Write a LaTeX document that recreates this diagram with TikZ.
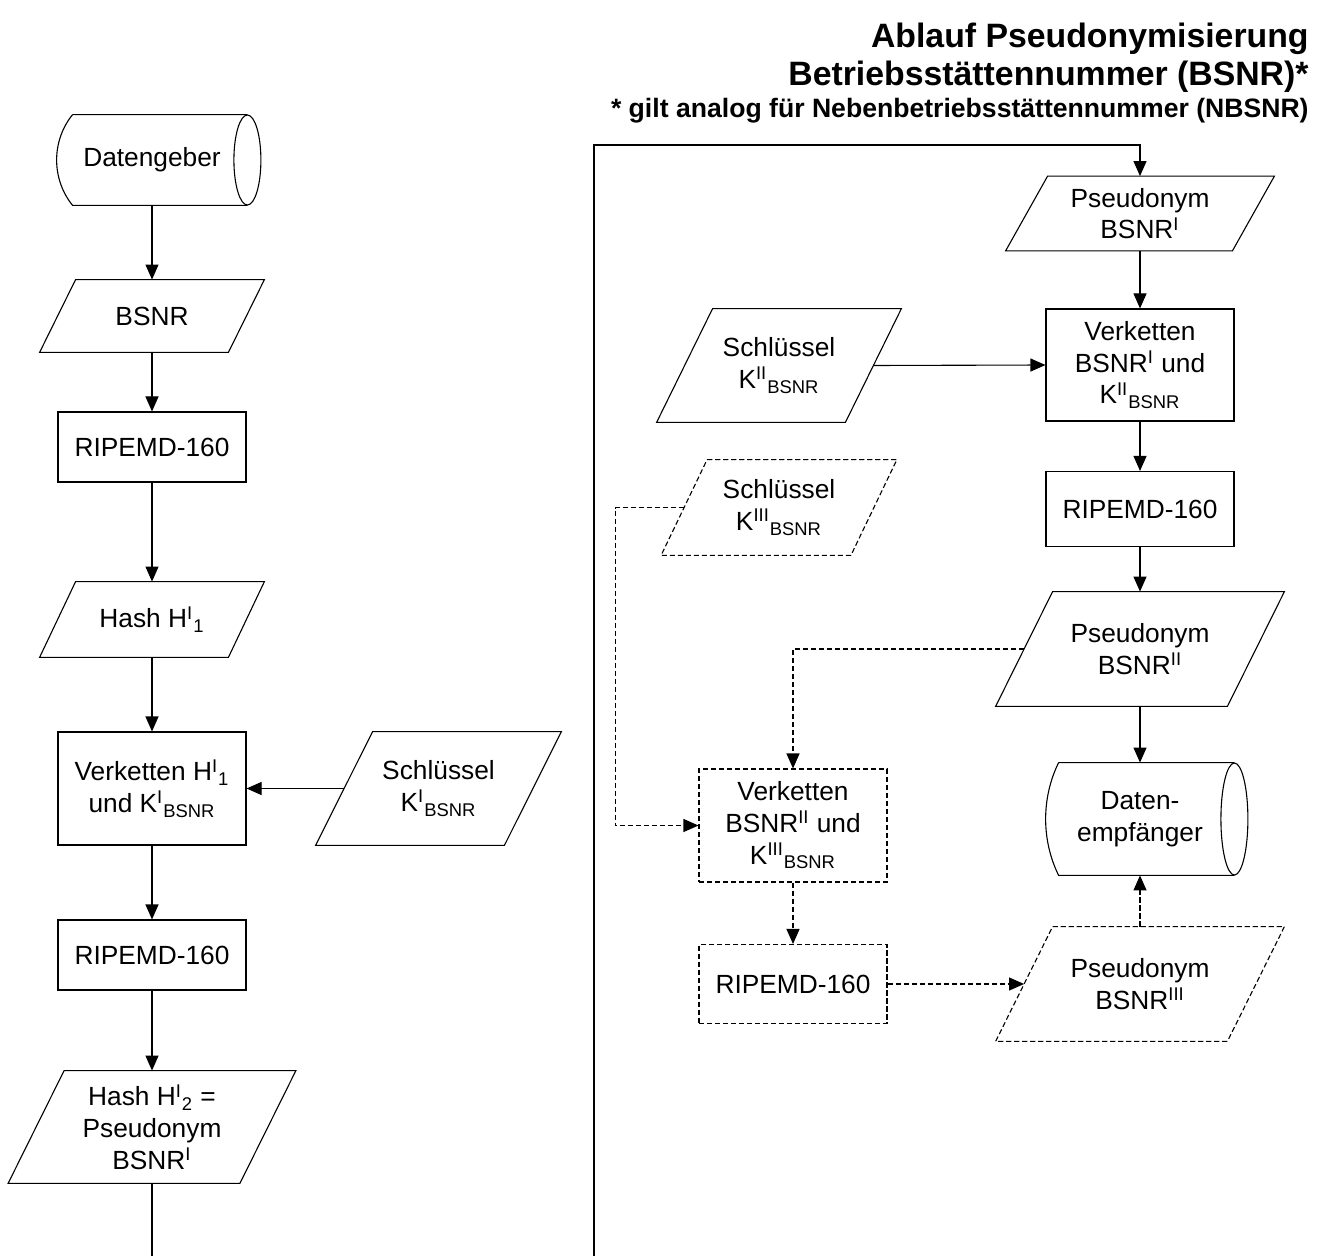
\documentclass[tikz,border=0pt]{standalone}
\usepackage{fontspec}
\setmainfont{Liberation Sans}
\usetikzlibrary{arrows.meta,calc}
\tikzset{
	plain/.style={draw=black, line width=0.55pt},
	flow/.style={plain, -{Triangle[length=7.5pt,width=6.5pt]}},
	optline/.style={dash pattern=on 2.6pt off 1.4pt},
	proc/.style={plain, rectangle, minimum width=94pt, inner sep=0pt, align=center},
	iodata/.style={rectangle, minimum width=94pt, inner sep=0pt, align=center},
	store/.style={rectangle, inner sep=0pt, align=center},
	headline/.style={anchor=base east, inner sep=0pt, font=\fontsize{16.9}{20}\selectfont\bfseries}
}

\begin{document}
\begin{tikzpicture}[x=0.5pt, y=-0.5pt, font=\fontsize{13.15}{15.85}\selectfont]
	\useasboundingbox (0,0) rectangle (1326,1256);

	% title
	\node[headline] (title) at (1309,48) {Ablauf Pseudonymisierung};
	\node[headline] (titleb) at (1309,86) {Betriebsstättennummer (BSNR)*};
	\node[headline, font=\fontsize{13.3}{16}\selectfont\bfseries] (note) at (1309,118) {* gilt analog für Nebenbetriebsstättennummer (NBSNR)};

	% left column
	\node[store, minimum width=95pt, minimum height=45pt] (geber) at (152,160) {Datengeber};
	\node[iodata, minimum height=36pt] (bsnr) at (152,316) {BSNR};
	\node[proc, minimum height=35pt] (ripA) at (152,447) {RIPEMD-160};
	\node[iodata, minimum height=37.5pt] (hashA) at (152,619.5) {Hash H\textsuperscript{I}\textsubscript{1}};
	\node[proc, minimum height=56.5pt] (catA) at (152,788.5) {Verketten H\textsuperscript{I}\textsubscript{1}\\und K\textsuperscript{I}\textsubscript{BSNR}};
	\node[iodata, minimum height=56.5pt] (keyA) at (438.5,788.5) {Schlüssel\\K\textsuperscript{I}\textsubscript{BSNR}};
	\node[proc, minimum height=35pt] (ripB) at (152,955) {RIPEMD-160};
	\node[iodata, minimum width=115.5pt, minimum height=56pt] (hashB) at (152,1127) {Hash H\textsuperscript{I}\textsubscript{2} =\\Pseudonym\\BSNR\textsuperscript{I}};

	% right column
	\node[iodata, minimum width=113pt, minimum height=37pt] (pseudA) at (1140,213.5) {Pseudonym\\BSNR\textsuperscript{I}};
	\node[proc, minimum height=56pt] (catB) at (1140,365) {Verketten\\BSNR\textsuperscript{I} und\\K\textsuperscript{II}\textsubscript{BSNR}};
	\node[iodata, minimum height=56.5pt] (keyB) at (779,365.5) {Schlüssel\\K\textsuperscript{II}\textsubscript{BSNR}};
	\node[proc, minimum height=37.5pt] (ripC) at (1140,509) {RIPEMD-160};
	\node[iodata, minimum width=115.5pt, minimum height=57pt] (pseudB) at (1140,649) {Pseudonym\\BSNR\textsuperscript{II}};
	\node[store, minimum width=94pt, minimum height=56pt] (empf) at (1140,819) {Daten-\\empfänger};

	% optional branch (dashed)
	\node[iodata, minimum width=94.5pt, minimum height=47.5pt] (keyC) at (779,507.5) {Schlüssel\\K\textsuperscript{III}\textsubscript{BSNR}};
	\node[proc, optline, minimum height=56.5pt] (catC) at (793,825.5) {Verketten\\BSNR\textsuperscript{II} und\\K\textsuperscript{III}\textsubscript{BSNR}};
	\node[proc, optline, minimum height=39.5pt] (ripD) at (793,984) {RIPEMD-160};
	\node[iodata, minimum width=115.5pt, minimum height=57pt] (pseudC) at (1140,984) {Pseudonym\\BSNR\textsuperscript{III}};

	% parallelograms
	\foreach \n/\s in {bsnr/9pt, hashA/9pt, keyA/14.25pt, hashB/14pt, pseudA/10.5pt, keyB/14pt, pseudB/14.25pt}
		\draw[plain] ([xshift=\s]\n.north west) -- ([xshift=\s]\n.north east) -- ([xshift=-\s]\n.south east) -- ([xshift=-\s]\n.south west) -- cycle;
	\foreach \n/\s in {keyC/11.5pt, pseudC/14.25pt}
		\draw[plain, optline] ([xshift=\s]\n.north west) -- ([xshift=\s]\n.north east) -- ([xshift=-\s]\n.south east) -- ([xshift=-\s]\n.south west) -- cycle;

	% data stores
	\foreach \n/\r/\c/\dx/\dy in {geber/22.5pt/8pt/-21.3/26.2, empf/28pt/6.5pt/-17.3/35.3}{
		\draw[plain] ([xshift=\c]\n.north west) -- (\n.north east) (\n.south east) -- ([xshift=\c]\n.south west)
			.. controls +(\dx,-\dy) and +(\dx,\dy) .. ([xshift=\c]\n.north west);
		\draw[plain] (\n.east) ellipse [x radius=6.75pt, y radius=\r];
	}

	% connectors
	\foreach \a/\b in {geber/bsnr, bsnr/ripA, ripA/hashA, hashA/catA, catA/ripB, ripB/hashB, pseudA/catB, catB/ripC, ripC/pseudB, pseudB/empf}
		\draw[flow] (\a.south) -- (\b.north);
	\draw[flow] (keyA.west) -- (catA.east);
	\draw[flow] (keyB.east) -- (catB.west);

	\coordinate (endL) at (152,1256);
	\coordinate (startR) at (594,1256);
	\coordinate (loopTop) at (594,145);
	\draw[plain] (hashB.south) -- (endL);
	\draw[flow] (startR) -- (loopTop) -| (pseudA.north);

	\draw[flow, optline] (keyC.west) -- ++(-69,0) |- (catC.west);
	\draw[flow, optline] (pseudB.west) -| (catC.north);
	\draw[flow, optline] (catC.south) -- (ripD.north);
	\draw[flow, optline] (ripD.east) -- (pseudC.west);
	\draw[flow, optline] (pseudC.north) -- (empf.south);
\end{tikzpicture}
\end{document}
